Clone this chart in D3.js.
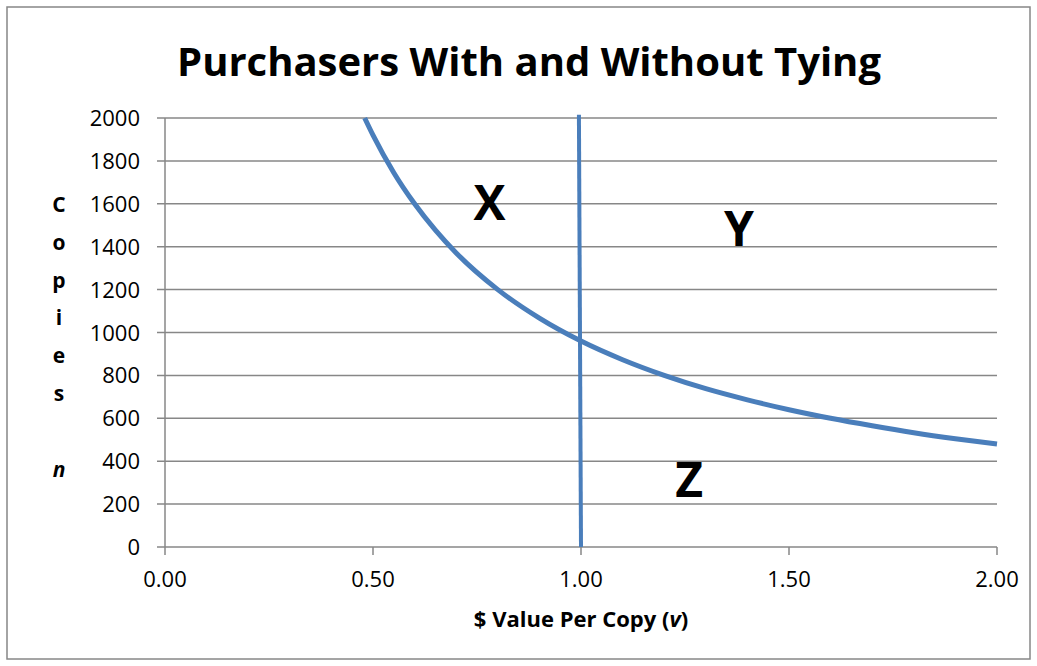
<!DOCTYPE html>
<html>
<head>
<meta charset="utf-8">
<script src="https://cdnjs.cloudflare.com/ajax/libs/d3/7.8.5/d3.min.js"></script>
<style>
  body { margin: 0; background: #fff; }
  text { font-family: "Open Sans", "Noto Sans", sans-serif; }
</style>
</head>
<body>
<div id="viz"></div>
<script>
var svg_width = 1037;
var svg_height = 666;

// demand curve
var curve_v = [0.48, 0.50, 0.55, 0.60, 0.65, 0.70, 0.80, 0.90, 1.00, 1.10, 1.20, 1.30, 1.40, 1.50, 1.60, 1.70, 1.80, 1.90, 2.00];
var curve_n = [2000, 1920, 1745, 1600, 1477, 1371, 1200, 1067, 960, 873, 800, 738, 686, 640, 600, 565, 533, 505, 480];
// the vertical line at v = 1
var vline_v = [0.995, 1.00];
var vline_n = [2015, 0];
var y_ticks = [0, 200, 400, 600, 800, 1000, 1200, 1400, 1600, 1800, 2000];
var x_ticks = [0, 0.5, 1, 1.5, 2];
var region_labels = ["X", "Y", "Z"];
var region_v = [0.78, 1.38, 1.26];
var region_n = [1525, 1405, 235];

var margin = {left: 165, right: 40, top: 118, bottom: 119};
var blue = "#4a7ebb";
var grey = "#878787";

var svg = d3.select('#viz')
.append('svg')
.attr('width', svg_width)
.attr('height', svg_height);

// outer frame
svg.append('rect')
.attr('x', 7).attr('y', 7)
.attr('width', 1023).attr('height', 652)
.attr('fill', 'white')
.attr('stroke', grey)
.attr('stroke-width', 1.5);

var x = d3.scaleLinear().domain([0, 2]).range([margin.left, 997]);
var y = d3.scaleLinear().domain([0, 2000]).range([547, margin.top]);

// horizontal gridlines with outward ticks
svg.selectAll('line.grid')
.data(y_ticks)
.enter()
.append('line')
.attr('class', 'grid')
.attr('x1', x(0) - 8)
.attr('x2', x(2))
.attr('y1', d => y(d))
.attr('y2', d => y(d))
.attr('stroke', grey)
.attr('stroke-width', 1.5);

// y axis
svg.append('line')
.attr('x1', x(0)).attr('x2', x(0))
.attr('y1', y(2000)).attr('y2', y(0))
.attr('stroke', grey).attr('stroke-width', 1.5);

// x ticks
svg.selectAll('line.xtick')
.data(x_ticks)
.enter()
.append('line')
.attr('class', 'xtick')
.attr('x1', d => x(d)).attr('x2', d => x(d))
.attr('y1', y(0)).attr('y2', y(0) + 8)
.attr('stroke', grey).attr('stroke-width', 1.5);

svg.selectAll('text.ylab')
.data(y_ticks)
.enter()
.append('text')
.attr('class', 'ylab')
.text(d => d)
.attr('text-anchor', 'end')
.attr('x', 140)
.attr('y', d => y(d) + 8)
.attr('font-size', '22px')
.attr('fill', 'black');

svg.selectAll('text.xlab')
.data(x_ticks)
.enter()
.append('text')
.attr('class', 'xlab')
.text(d => d3.format('.2f')(d))
.attr('text-anchor', 'middle')
.attr('x', d => x(d))
.attr('y', 587)
.attr('font-size', '22px')
.attr('fill', 'black');

// lines
var line = d3.line().x(d => x(d[0])).y(d => y(d[1])).curve(d3.curveMonotoneX);

svg.append('path')
.datum(curve_v.map((v, i) => [v, curve_n[i]]))
.attr('d', line)
.attr('fill', 'none')
.attr('stroke', blue)
.attr('stroke-width', 5);

svg.append('path')
.datum(vline_v.map((v, i) => [v, vline_n[i]]))
.attr('d', d3.line().x(d => x(d[0])).y(d => y(d[1])))
.attr('fill', 'none')
.attr('stroke', blue)
.attr('stroke-width', 4);

// region letters
svg.selectAll('text.region')
.data(region_labels)
.enter()
.append('text')
.attr('class', 'region')
.text(d => d)
.attr('text-anchor', 'middle')
.attr('x', (d, i) => x(region_v[i]))
.attr('y', (d, i) => y(region_n[i]))
.attr('font-size', '48px')
.attr('font-weight', 'bold')
.attr('fill', 'black');

// title
svg.append('text')
.text('Purchasers With and Without Tying')
.attr('text-anchor', 'middle')
.attr('x', 529)
.attr('y', 76)
.attr('font-size', '40px')
.attr('font-weight', 'bold')
.attr('fill', 'black');

// y title, stacked letters
var ytitle = ['C', 'o', 'p', 'i', 'e', 's', '', 'n'];
svg.selectAll('text.ytitle')
.data(ytitle)
.enter()
.append('text')
.attr('class', 'ytitle')
.text(d => d)
.attr('text-anchor', 'middle')
.attr('x', 59)
.attr('y', (d, i) => 212 + i * 37.8)
.attr('font-size', '21px')
.attr('font-weight', 'bold')
.attr('font-style', d => d == 'n' ? 'italic' : 'normal')
.attr('fill', 'black');

// x title
var xt = svg.append('text')
.attr('text-anchor', 'middle')
.attr('x', x(1))
.attr('y', 627)
.attr('font-size', '22px')
.attr('font-weight', 'bold')
.attr('fill', 'black');
xt.append('tspan').text('$ Value Per Copy (');
xt.append('tspan').text('v').attr('font-style', 'italic');
xt.append('tspan').text(')');
</script>
</body>
</html>
